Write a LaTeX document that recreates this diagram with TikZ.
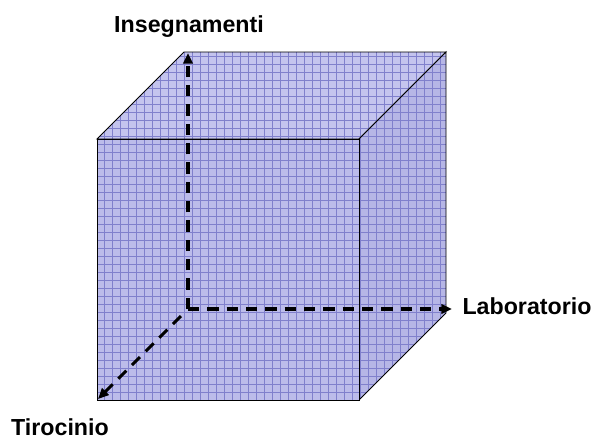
\documentclass[tikz,border=0pt]{standalone}
\usepackage{fontspec}
\setmainfont{Liberation Sans}
\usepackage{tikz}
\usetikzlibrary{arrows.meta}
\definecolor{topface}{RGB}{196,196,238}
\definecolor{sideface}{RGB}{182,182,230}
\definecolor{frontface}{RGB}{188,188,234}
\definecolor{gridline}{RGB}{128,128,204}

\begin{document}
\begin{tikzpicture}[
    x=0.75pt, y=-0.75pt,
    face/.style={draw=black, line width=0.7pt, fill=#1,
        path picture={\draw[gridline, line width=0.6pt, step=6pt]
            (path picture bounding box.south west) grid (path picture bounding box.north east);}},
    axis/.style={-{Triangle[length=8pt,width=7pt]}, line width=2.3pt, dash pattern=on 8.5pt off 6pt},
    lbl/.style={font=\fontsize{17.4}{20}\selectfont\bfseries}
]
\useasboundingbox (0,0) rectangle (599,439);
% cube corners
\coordinate (fa) at (97,139);
\coordinate (fb) at (359,139);
\coordinate (fc) at (359,400);
\coordinate (fd) at (97,400);
\coordinate (ba) at (184,52);
\coordinate (bb) at (446,52);
\coordinate (bc) at (446,313);

% faces
\path[face=topface] (fa) -- (ba) -- (bb) -- (fb) -- cycle;
\path[face=sideface] (fb) -- (bb) -- (bc) -- (fc) -- cycle;
\path[face=frontface] (fa) -- (fb) -- (fc) -- (fd) -- cycle;

% axes
\coordinate (o) at (188,309);
\coordinate (oz) at (181,316);
\coordinate (ay) at (188,53);
\coordinate (ax) at (452,309);
\coordinate (az) at (98,399);
\draw[axis] (o) -- (ay);
\draw[axis] (o) -- (ax);
\draw[axis] (oz) -- (az);

% labels
\node[lbl] (ins) at (189,27) {Insegnamenti};
\node[lbl] (lab) at (527,306) {Laboratorio};
\node[lbl] (tir) at (60,427) {Tirocinio};
\end{tikzpicture}
\end{document}
